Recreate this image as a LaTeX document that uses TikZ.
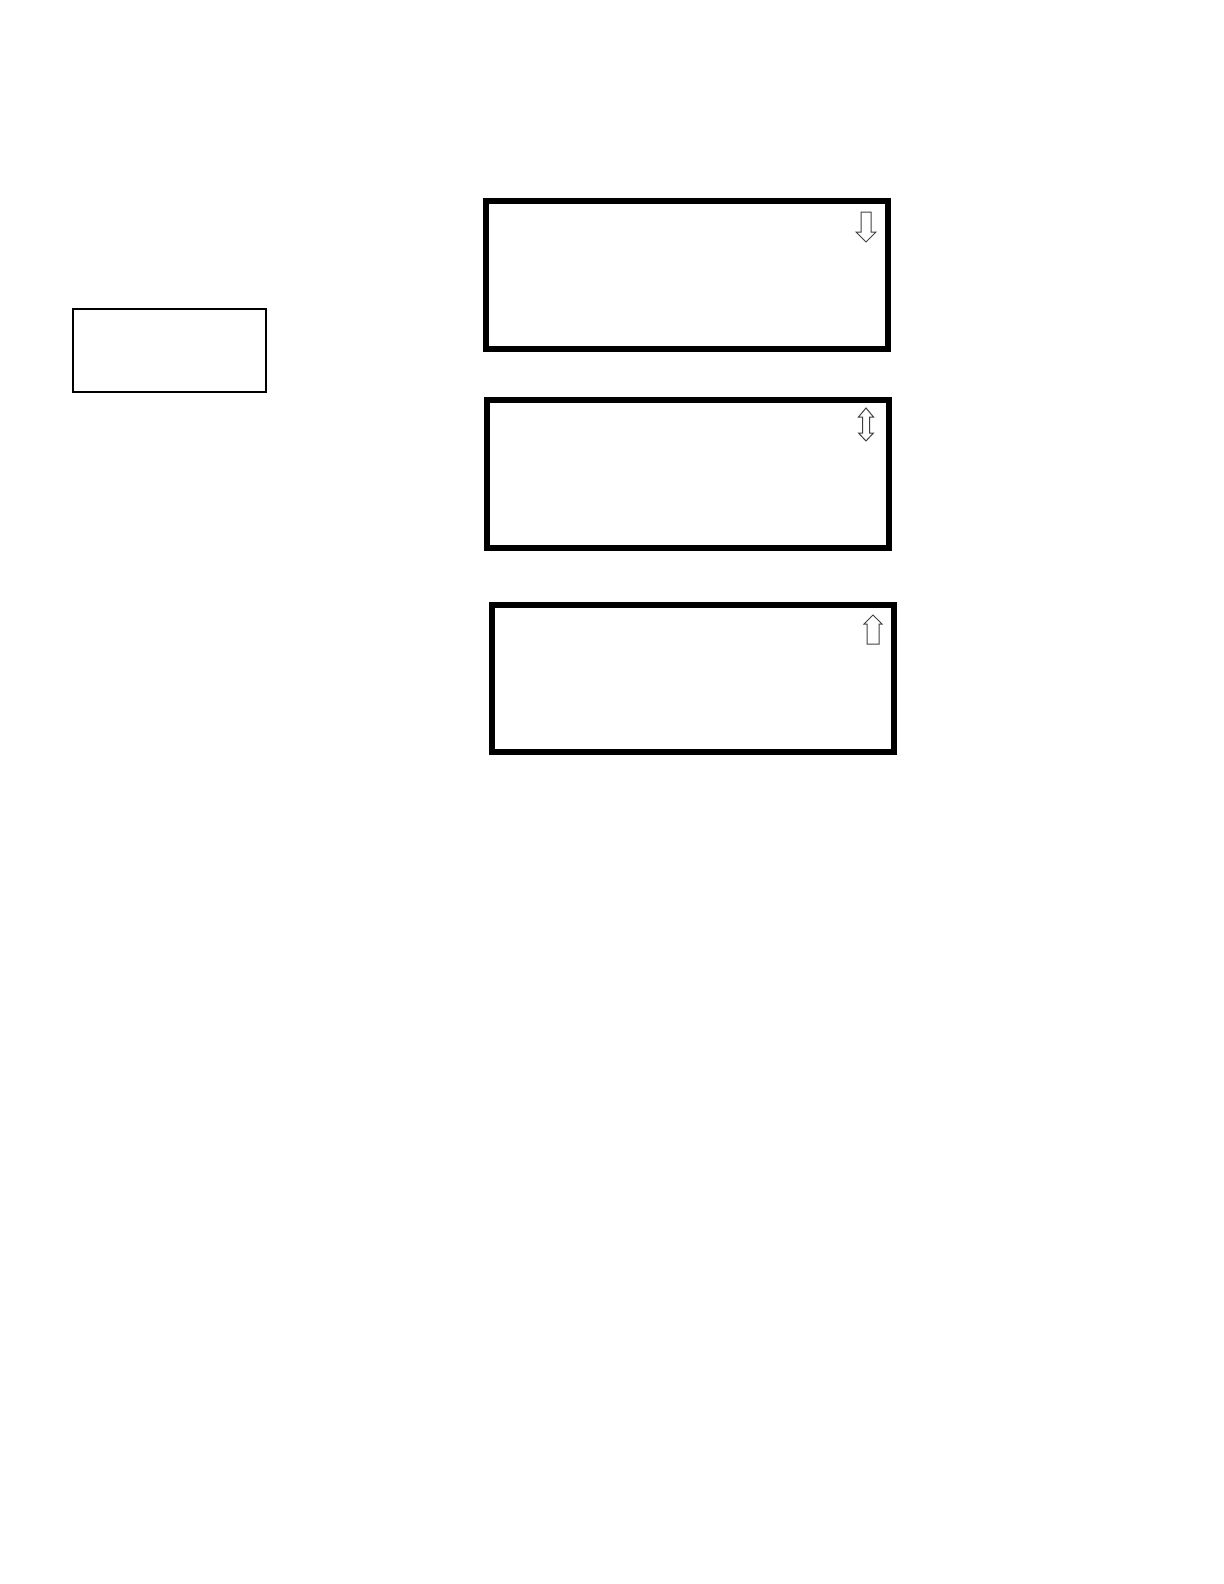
\documentclass[tikz,border=0pt]{standalone}
\usetikzlibrary{arrows.meta}

\begin{document}
\begin{tikzpicture}[x=0.5pt, y=-0.5pt]

	\tikzstyle{screen}=[rectangle, draw, line width=3pt, inner sep=0pt, minimum width=201pt, minimum height=74pt]
	\tikzstyle{key}=[rectangle, draw, line width=1pt, inner sep=0pt, minimum width=96.5pt, minimum height=41.5pt]
	\tikzstyle{scroll}=[draw=black!75, line width=0.5pt, line join=miter]

	\useasboundingbox (0,0) rectangle (1224,1584);

	\node[key] (key) at (169.5,350.5) {};

	\node[screen] (lcd1) at (686.5,275) {};
	\node[screen] (lcd2) at (688,474) {};
	\node[screen, minimum height=73.5pt] (lcd3) at (693,678.5) {};

	% scroll marks
	\coordinate (dn) at (866,242);
	\coordinate (ud) at (866,408);
	\coordinate (up) at (873,615);

	\draw[scroll] (dn) -- ++(-10,-10) -- ++(5,0) -- ++(0,-20) -- ++(10,0) -- ++(0,20) -- ++(5,0) -- cycle;
	\draw[scroll] (ud) -- ++(-7.5,9) -- ++(4,0) -- ++(0,16) -- ++(-4,0) -- ++(7.5,8) -- ++(7.5,-8) -- ++(-4,0) -- ++(0,-16) -- ++(4,0) -- cycle;
	\draw[scroll] (up) -- ++(-9,9) -- ++(3,0) -- ++(0,20) -- ++(12,0) -- ++(0,-20) -- ++(3,0) -- cycle;

\end{tikzpicture}
\end{document}
